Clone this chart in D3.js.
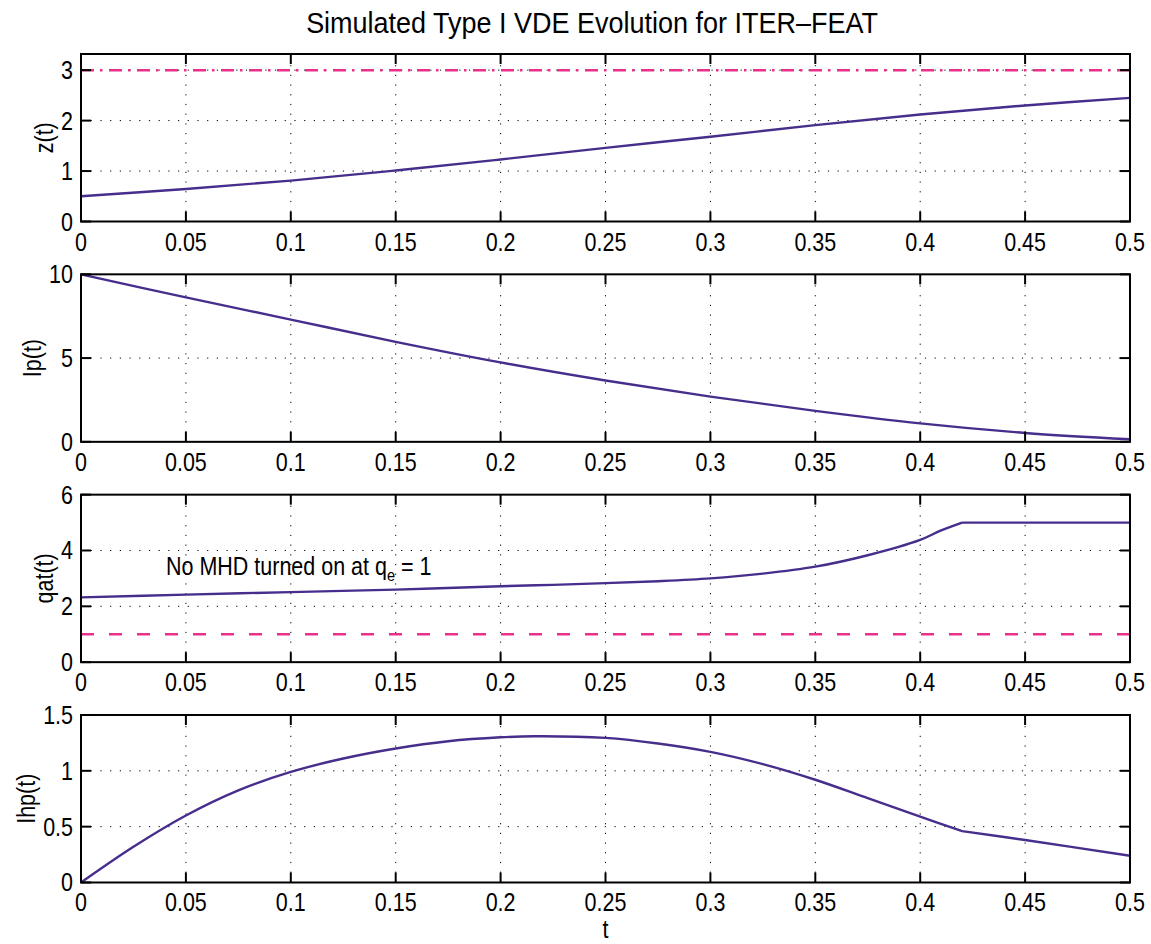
<!DOCTYPE html>
<html><head><meta charset="utf-8">
<script src="https://cdn.jsdelivr.net/npm/d3@7"></script>
<style>body{margin:0;background:#fff}text{font-family:"Liberation Sans",Arial,Helvetica,sans-serif;fill:#000}</style>
</head><body>
<svg id="c" width="1151" height="944"></svg>
<script>
// ---- data ----
const title = "Simulated Type I VDE Evolution for ITER\u2013FEAT";
const xLabel = "t";
const xTicks = [0,0.05,0.1,0.15,0.2,0.25,0.3,0.35,0.4,0.45,0.5];

const zT = [0,0.05,0.1,0.15,0.2,0.25,0.3,0.35,0.4,0.45,0.5];
const zV = [0.5,0.645,0.81,1.01,1.23,1.46,1.68,1.91,2.12,2.3,2.45];
const zRef = 3;
const zTicks = [0,1,2,3];

const ipT = [0,0.05,0.1,0.15,0.2,0.25,0.3,0.35,0.4,0.45,0.5];
const ipV = [10,8.62,7.3,5.97,4.74,3.66,2.7,1.85,1.1,0.53,0.15];
const ipTicks = [0,5,10];

const qT = [0,0.05,0.1,0.15,0.2,0.225,0.25,0.275,0.3,0.325,0.35,0.375,0.4,0.41,0.42,0.45,0.5];
const qV = [2.32,2.42,2.51,2.6,2.72,2.77,2.83,2.9,3.0,3.17,3.42,3.83,4.38,4.72,5.0,5.0,5.0];
const qRef = 1;
const qTicks = [0,2,4,6];

const hT = [0,0.025,0.05,0.075,0.1,0.125,0.15,0.175,0.2,0.216,0.25,0.275,0.3,0.325,0.35,0.375,0.4,0.42,0.45,0.5];
const hV = [0,0.32,0.6,0.825,0.99,1.11,1.2,1.265,1.3,1.31,1.295,1.245,1.17,1.06,0.92,0.755,0.59,0.46,0.38,0.24];
const hTicks = [0,0.5,1,1.5];

const kinkT = 0.42;

const panels = [
  {label:"z(t)",   t:zT,  v:zV,  dom:[0,3.32], ticks:zTicks,  ref:zRef, dash:"13,6,2.5,6.5", kink:null},
  {label:"Ip(t)",  t:ipT, v:ipV, dom:[0,10],   ticks:ipTicks, ref:null, kink:null},
  {label:"qat(t)", t:qT,  v:qV,  dom:[0,6],    ticks:qTicks,  ref:qRef, dash:"13,15", kink:kinkT},
  {label:"Ihp(t)", t:hT,  v:hV,  dom:[0,1.5],  ticks:hTicks,  ref:null, kink:kinkT}
];

// ---- layout ----
const svg = d3.select("#c");
const L = 81, R = 1130, H = 167.5, TOP0 = 54, STEP = 220.33;
const FS = 25, SX = 0.86;
const lineColor = "#472d8c", refColor = "#e8308c";
const x = d3.scaleLinear().domain([0,0.5]).range([L,R]);
const fmt = v => String(+v.toFixed(2));

function ctext(g, px, py, str, anchor, size, sx, rot){
  return g.append("text")
    .attr("transform", `translate(${px},${py})` + (rot?` rotate(${rot})`:"") + ` scale(${sx},1)`)
    .attr("text-anchor", anchor).style("font-size", size+"px").text(str);
}

panels.forEach((p,i) => {
  const top = TOP0 + i*STEP, bot = top + H;
  const y = d3.scaleLinear().domain(p.dom).range([bot,top]);
  const g = svg.append("g");

  // grid
  const grid = g.append("g").attr("stroke","#000").attr("stroke-width",1).attr("stroke-dasharray","1.2,8.5");
  xTicks.filter(v => v>0 && v<0.5).forEach(v => grid.append("line").attr("x1",x(v)).attr("x2",x(v)).attr("y1",bot).attr("y2",top));
  p.ticks.filter(v => v>p.dom[0] && v<p.dom[1]).forEach(v => grid.append("line").attr("x1",L).attr("x2",R).attr("y1",y(v)).attr("y2",y(v)));

  // reference line
  if (p.ref !== null) {
    g.append("line").attr("x1",L).attr("x2",R).attr("y1",y(p.ref)).attr("y2",y(p.ref))
      .attr("stroke",refColor).attr("stroke-width",2.5).attr("stroke-dasharray",p.dash);
  }

  // data line (split at the kink so each part is smooth)
  const pts = p.t.map((tt,k)=>[tt,p.v[k]]);
  const segs = p.kink === null ? [pts] : [pts.filter(d=>d[0]<=p.kink), pts.filter(d=>d[0]>=p.kink)];
  const line = d3.line().x(d=>x(d[0])).y(d=>y(d[1])).curve(d3.curveCatmullRom.alpha(0.5));
  const dstr = segs.map(s => line(s)).join("");
  g.append("path").attr("d",dstr)
    .attr("fill","none").attr("stroke",lineColor).attr("stroke-width",2.4).attr("stroke-linejoin","round");

  // box + ticks
  const ax = g.append("g").attr("stroke","#000").attr("stroke-width",2);
  ax.append("rect").attr("x",L).attr("y",top).attr("width",R-L).attr("height",H).attr("fill","none");
  xTicks.forEach(v => {
    ax.append("line").attr("x1",x(v)).attr("x2",x(v)).attr("y1",bot).attr("y2",bot-10);
    ax.append("line").attr("x1",x(v)).attr("x2",x(v)).attr("y1",top).attr("y2",top+10);
    ctext(g, x(v), bot+29, fmt(v), "middle", FS, SX);
  });
  let maxW = 0;
  p.ticks.forEach(v => {
    ax.append("line").attr("x1",L).attr("x2",L+10).attr("y1",y(v)).attr("y2",y(v));
    ax.append("line").attr("x1",R).attr("x2",R-10).attr("y1",y(v)).attr("y2",y(v));
    const t = ctext(g, 73, y(v)+9, fmt(v), "end", FS, SX);
    maxW = Math.max(maxW, t.node().getComputedTextLength()*SX);
  });
  ctext(g, 73 - maxW - 8, (top+bot)/2, p.label, "middle", FS, SX, -90);

  if (i === 2) {
    const a = g.append("text").attr("transform",`translate(166,575) scale(${SX},1)`).style("font-size",FS+"px");
    a.append("tspan").text("No MHD turned on at q");
    a.append("tspan").attr("dy",6).style("font-size","17px").text("e");
    a.append("tspan").attr("dy",-6).text(" = 1");
  }
});

ctext(svg, 592, 33, title, "middle", 30, 0.9);
ctext(svg, (L+R)/2, 938, xLabel, "middle", FS, SX);
</script>
</body></html>
